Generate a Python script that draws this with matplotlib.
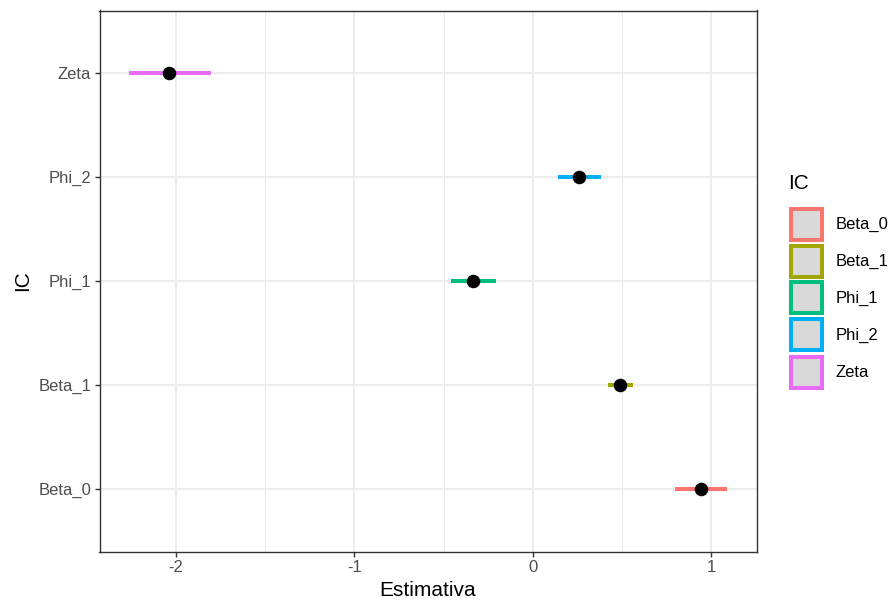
import matplotlib
matplotlib.use("Agg")
import matplotlib.pyplot as plt
from matplotlib.patches import Patch

categories = ["Beta_0", "Beta_1", "Phi_1", "Phi_2", "Zeta"]
estimates = [0.939, 0.489, -0.333, 0.259, -2.036]
lower = [0.798, 0.422, -0.456, 0.138, -2.259]
upper = [1.085, 0.560, -0.209, 0.380, -1.802]
colors = ["#F8766D", "#A3A500", "#00BF7D", "#00B0F6", "#E76BF3"]
xticks = [-2, -1, 0, 1]
xticklabels = ["-2", "-1", "0", "1"]
minor_xticks = [-1.5, -0.5, 0.5]

plt.rcParams['font.family'] = ['Liberation Sans', 'DejaVu Sans']

fig = plt.figure(figsize=(8.9, 6.06), dpi=100)
W, H = 890, 606
ax = fig.add_axes([99.5 / W, (H - 551.5) / H, (756.5 - 99.5) / W, (551.5 - 10.5) / H])

ypos = list(range(1, len(categories) + 1))
for y, lo, hi, c in zip(ypos, lower, upper, colors):
    ax.plot([lo, hi], [y, y], color=c, lw=2.9, solid_capstyle='butt', zorder=3)
ax.scatter(estimates, ypos, s=95, color='black', zorder=4, linewidths=0)

ax.set_xlim(-2.426, 1.252)
ax.set_ylim(0.4, 5.6)
ax.set_xticks(xticks)
ax.set_xticklabels(xticklabels)
ax.set_xticks(minor_xticks, minor=True)
ax.set_yticks(ypos)
ax.set_yticklabels(categories)

ax.grid(which='major', color='#EBEBEB', lw=1.3, zorder=0)
ax.grid(which='minor', axis='x', color='#EBEBEB', lw=0.7, zorder=0)
ax.set_axisbelow(True)
ax.tick_params(which='major', length=3.6, width=1.0, color='#333333',
               labelsize=12, labelcolor='#4D4D4D', pad=2.5)
ax.tick_params(which='minor', length=0)
for s in ax.spines.values():
    s.set_color('#333333')
    s.set_linewidth(1.0)

ax.set_xlabel("Estimativa", fontsize=15, labelpad=4.5)
ax.set_ylabel("IC", fontsize=15, labelpad=4)

handles = [Patch(facecolor='#D9D9D9', edgecolor=c, lw=2.9, label=l)
           for c, l in zip(colors, categories)]
fs = 12 * 100 / 72
hh = (31 / fs - 0.245) / 0.65
leg = fig.legend(handles=handles, loc='upper left',
                 bbox_to_anchor=(790.5 / W, 1 - 208.5 / H), frameon=False,
                 fontsize=12, handlelength=31 / fs,
                 handleheight=hh, labelspacing=6 / fs, handletextpad=14.5 / fs,
                 borderpad=0, borderaxespad=0)
fig.text(788 / W, 1 - 174 / H, "IC", fontsize=15, ha='left', va='top')

fig.savefig("out.png", dpi=100)
